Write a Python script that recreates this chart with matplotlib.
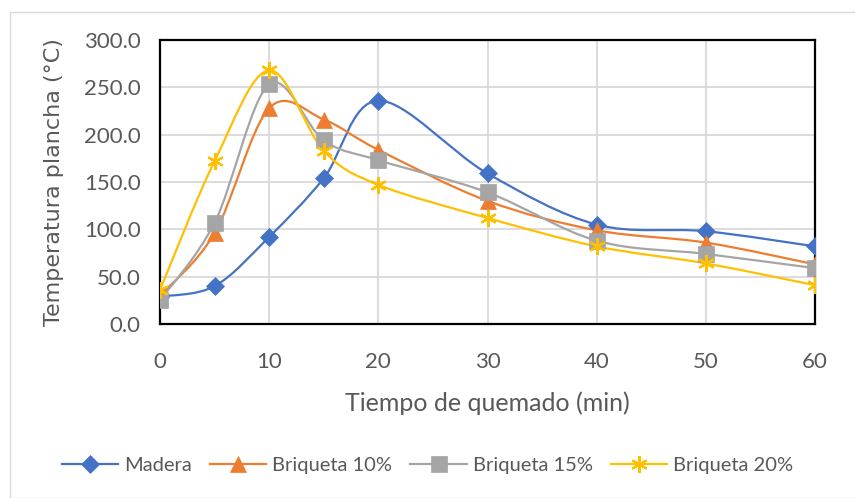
import numpy as np
import matplotlib.pyplot as plt
from matplotlib.path import Path
from matplotlib.patches import PathPatch, Rectangle

tiempo = [0, 5, 10, 15, 20, 30, 40, 50, 60]
madera = [29, 40, 92, 154, 236, 159, 105, 98, 82]
briq10 = [30, 96, 228, 216, 184, 130, 99, 86, 63]
briq15 = [25, 107, 253, 194, 173, 139, 88, 74, 59]
briq20 = [36, 172, 268, 183, 147, 112, 82, 64, 41]

series = [
    ('Madera', madera, '#4472C4', 'D', 9),
    ('Briqueta 10%', briq10, '#ED7D31', '^', 11),
    ('Briqueta 15%', briq15, '#A5A5A5', 's', 11),
    ('Briqueta 20%', briq20, '#FFC000', (6, 2, 0), 12),
]

plt.rcParams['font.family'] = ['Lato', 'DejaVu Sans']
txt = '#595959'


def smooth_path(x, y):
    # excel-like smoothing: cardinal spline as cubic beziers
    x = np.asarray(x, float)
    y = np.asarray(y, float)
    n = len(x)
    verts = [(x[0], y[0])]
    codes = [Path.MOVETO]
    for i in range(n - 1):
        p0 = np.array([x[max(i - 1, 0)], y[max(i - 1, 0)]])
        p1 = np.array([x[i], y[i]])
        p2 = np.array([x[i + 1], y[i + 1]])
        p3 = np.array([x[min(i + 2, n - 1)], y[min(i + 2, n - 1)]])
        c1 = p1 + (p2 - p0) / 6
        c2 = p2 - (p3 - p1) / 6
        verts += [tuple(c1), tuple(c2), tuple(p2)]
        codes += [Path.CURVE4] * 3
    return Path(verts, codes)


fig = plt.figure(figsize=(8.55, 4.98), dpi=100)
ax = fig.add_axes([160 / 855, 1 - 324 / 498, 655 / 855, 284 / 498])

for name, vals, color, mk, ms in series:
    mew = 1.6 if mk == (6, 2, 0) else 0.5
    ax.add_patch(PathPatch(smooth_path(tiempo, vals), facecolor='none',
                           edgecolor=color, lw=1.6, zorder=3))
    ax.plot(tiempo, vals, linestyle='none', marker=mk, color=color,
            markersize=ms, markeredgewidth=mew, zorder=4)
    ax.plot([], [], color=color, lw=1.6, marker=mk, markersize=ms,
            markeredgewidth=mew, label=name)

ax.set_xlim(0, 60)
ax.set_ylim(0, 300)
ax.set_xticks(range(0, 61, 10))
ax.set_yticks(range(0, 301, 50))
ax.set_yticklabels([f'{v:.1f}' for v in range(0, 301, 50)])
ax.grid(True, color='#d9d9d9', lw=1.3)
ax.set_axisbelow(True)
for s in ax.spines.values():
    s.set_linewidth(1.6)
    s.set_color('black')
ax.tick_params(axis='x', length=0, labelsize=16, colors=txt, pad=20)
ax.tick_params(axis='y', length=0, labelsize=16, colors=txt, pad=14)
ax.set_xlabel('Tiempo de quemado (min)', fontsize=18, color=txt, labelpad=14)
ax.set_ylabel('Temperatura plancha (°C)', fontsize=16, color=txt,
              family=['DejaVu Sans'], labelpad=14)

fig.legend(loc='center', bbox_to_anchor=(0.5, 1 - 465 / 498), ncol=4,
           frameon=False, fontsize=14.5, handlelength=2.8, columnspacing=0.9,
           handletextpad=0.3, labelcolor=txt)

fig.patches.append(Rectangle((10 / 855, 0), 1, 1 - 12 / 498, transform=fig.transFigure,
                             fill=False, edgecolor='#d9d9d9', lw=1))

fig.savefig('out.png', dpi=100)
